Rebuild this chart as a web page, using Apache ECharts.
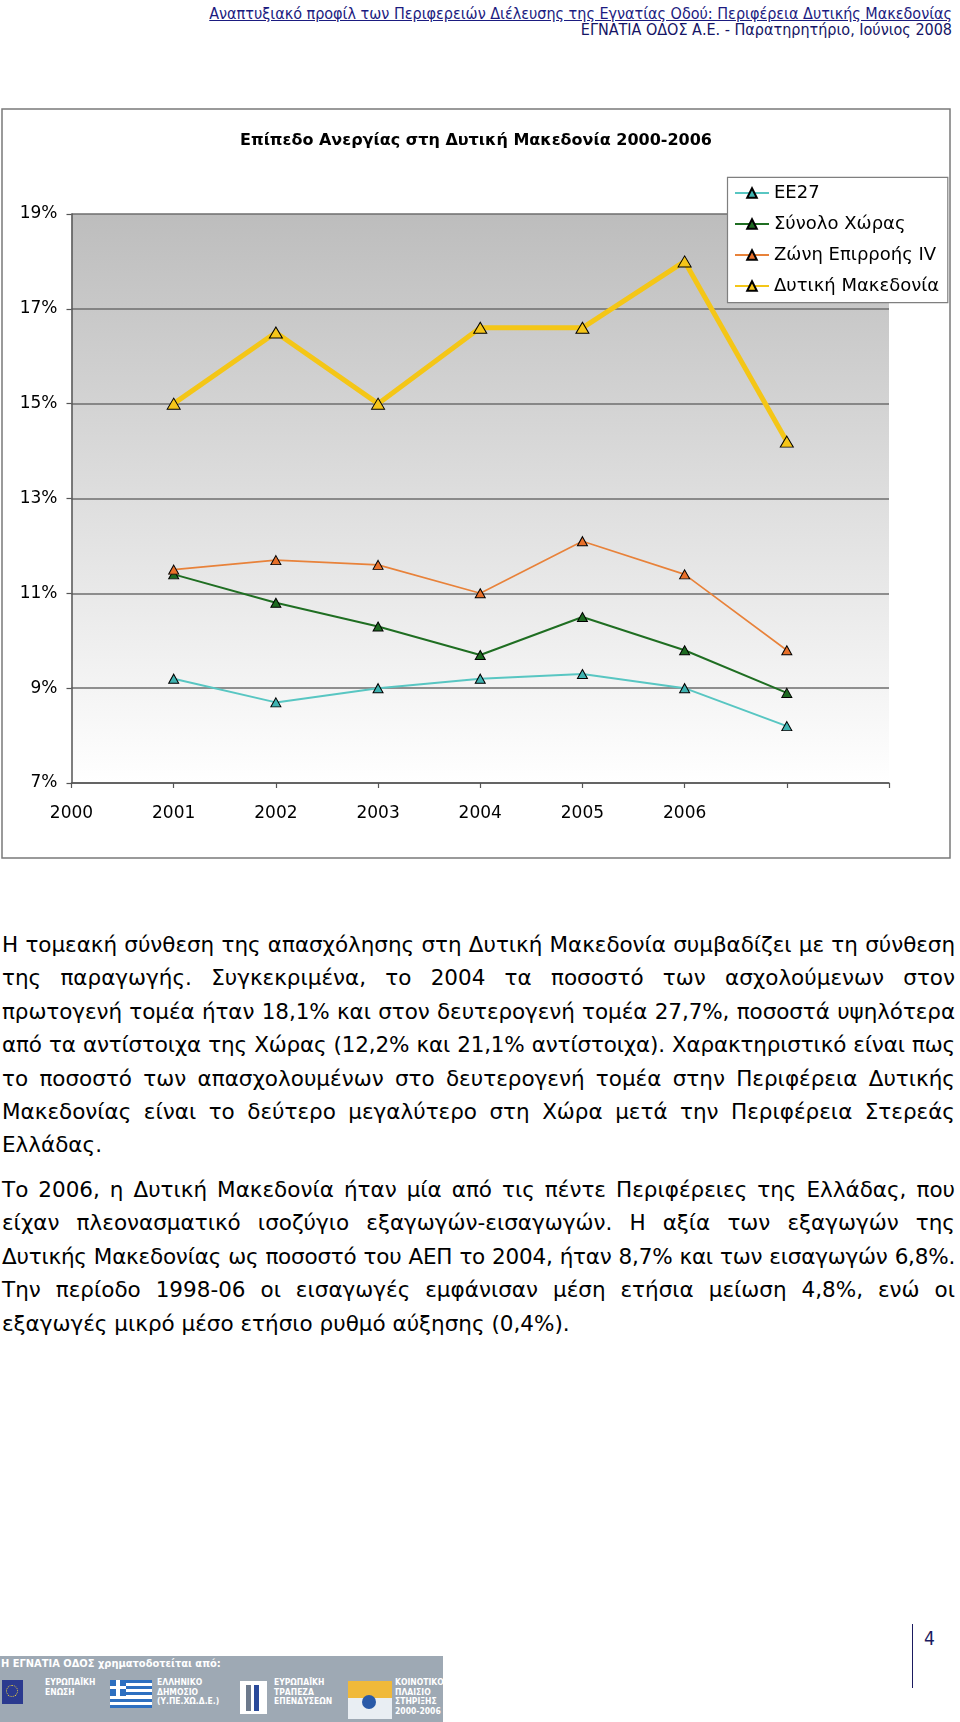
<!DOCTYPE html>
<html>
<head>
<meta charset="utf-8">
<script src="https://cdn.jsdelivr.net/npm/echarts@6/dist/echarts.min.js"></script>
<style>
html,body{margin:0;padding:0;background:#fff;}
body{width:960px;height:1722px;position:relative;overflow:hidden;font-family:"DejaVu Sans",sans-serif;}
.hdr{position:absolute;right:8px;white-space:nowrap;font-family:"DejaVu Sans Condensed","DejaVu Sans",sans-serif;font-stretch:condensed;color:#1b1b80;font-size:16px;line-height:17px;}
#h1{top:5px;text-decoration:underline;}
#h2{top:21px;color:#141465;}
#chart{position:absolute;left:0;top:100px;width:952px;height:770px;}
.para{position:absolute;left:2px;width:953px;font-size:21.5px;color:#000;font-family:"DejaVu Sans",sans-serif;}
.line{height:33.4px;line-height:33.4px;white-space:nowrap;text-align:justify;text-align-last:justify;}
.line.last{text-align:left;text-align-last:left;}
#p1{top:928px;}
#p2{top:1173px;}
#pnum{position:absolute;left:924px;top:1627px;font-size:19px;color:#1b1b60;font-family:"DejaVu Sans Condensed","DejaVu Sans",sans-serif;}
#pline{position:absolute;left:912px;top:1624px;width:1px;height:64px;background:#1b1b60;}
#banner{position:absolute;left:0;top:1656px;width:443px;height:66px;background:#9ea9b4;color:#fff;font-family:"DejaVu Sans Condensed","DejaVu Sans",sans-serif;font-stretch:condensed;}
#banner .t{position:absolute;left:1px;top:1px;font-size:11px;font-weight:bold;white-space:nowrap;}
#banner .s{position:absolute;font-size:8.5px;line-height:9.5px;font-weight:bold;white-space:nowrap;}
.eu{position:absolute;left:2px;top:24px;width:21px;height:24px;background:#2b3a8f;}
.eu i{position:absolute;left:4px;top:5px;width:10px;height:10px;border:1.5px dotted #f3d63a;border-radius:50%;}
.gr{position:absolute;left:110px;top:24px;width:42px;height:28px;background:repeating-linear-gradient(#2d6fc0 0 3.1px,#fff 3.1px 6.2px);}
.gr i{position:absolute;left:0;top:0;width:16px;height:15.5px;background:linear-gradient(#2d6fc0 0 6px,#fff 6px 9.5px,#2d6fc0 9.5px),#2d6fc0;}
.gr i:after{content:"";position:absolute;left:6px;top:0;width:3.5px;height:15.5px;background:#fff;}
.eib{position:absolute;left:240px;top:25px;width:27px;height:33px;background:#fff;}
.eib i{position:absolute;top:4px;width:5px;height:26px;background:#6d7a8c;}
.csf{position:absolute;left:348px;top:25px;width:44px;height:38px;background:linear-gradient(#f0b93a 0 45%,#e9eef3 45%);}
.csf i{position:absolute;left:14px;top:14px;width:14px;height:14px;border-radius:50%;background:#2a5aa8;}
</style>
</head>
<body>
<div id="h1" class="hdr">Αναπτυξιακό προφίλ των Περιφερειών Διέλευσης της Εγνατίας Οδού: Περιφέρεια Δυτικής Μακεδονίας</div>
<div id="h2" class="hdr">ΕΓΝΑΤΙΑ ΟΔΟΣ Α.Ε. - Παρατηρητήριο, Ιούνιος 2008</div>

<div id="chart"></div>

<div id="p1" class="para">
<div class="line"><span>Η τομεακή σύνθεση της απασχόλησης στη Δυτική Μακεδονία συμβαδίζει με τη σύνθεση</span></div>
<div class="line"><span>της παραγωγής. Συγκεκριμένα, το 2004 τα ποσοστό των ασχολούμενων στον</span></div>
<div class="line"><span>πρωτογενή τομέα ήταν 18,1% και στον δευτερογενή τομέα 27,7%, ποσοστά υψηλότερα</span></div>
<div class="line"><span>από τα αντίστοιχα της Χώρας (12,2% και 21,1% αντίστοιχα). Χαρακτηριστικό είναι πως</span></div>
<div class="line"><span>το ποσοστό των απασχολουμένων στο δευτερογενή τομέα στην Περιφέρεια Δυτικής</span></div>
<div class="line"><span>Μακεδονίας είναι το δεύτερο μεγαλύτερο στη Χώρα μετά την Περιφέρεια Στερεάς</span></div>
<div class="line last"><span>Ελλάδας.</span></div>
</div>
<div id="p2" class="para">
<div class="line"><span>Το 2006, η Δυτική Μακεδονία ήταν μία από τις πέντε Περιφέρειες της Ελλάδας, που</span></div>
<div class="line"><span>είχαν πλεονασματικό ισοζύγιο εξαγωγών-εισαγωγών. Η αξία των εξαγωγών της</span></div>
<div class="line"><span>Δυτικής Μακεδονίας ως ποσοστό του ΑΕΠ το 2004, ήταν 8,7% και των εισαγωγών 6,8%.</span></div>
<div class="line"><span>Την περίοδο 1998-06 οι εισαγωγές εμφάνισαν μέση ετήσια μείωση 4,8%, ενώ οι</span></div>
<div class="line last"><span>εξαγωγές μικρό μέσο ετήσιο ρυθμό αύξησης (0,4%).</span></div>
</div>

<div id="pline"></div>
<div id="pnum">4</div>

<div id="banner">
  <div class="t">Η ΕΓΝΑΤΙΑ ΟΔΟΣ χρηματοδοτείται από:</div>
  <div class="eu"><i></i></div>
  <div class="s" style="left:45px;top:22px;">ΕΥΡΩΠΑΪΚΗ<br>ΕΝΩΣΗ</div>
  <div class="gr"><i></i></div>
  <div class="s" style="left:157px;top:22px;">ΕΛΛΗΝΙΚΟ<br>ΔΗΜΟΣΙΟ<br>(Υ.ΠΕ.ΧΩ.Δ.Ε.)</div>
  <div class="eib"><i style="left:6px"></i><i style="left:14px;background:#2a4a9a"></i></div>
  <div class="s" style="left:274px;top:22px;">ΕΥΡΩΠΑΪΚΗ<br>ΤΡΑΠΕΖΑ<br>ΕΠΕΝΔΥΣΕΩΝ</div>
  <div class="csf"><i></i></div>
  <div class="s" style="left:395px;top:22px;">ΚΟΙΝΟΤΙΚΟ<br>ΠΛΑΙΣΙΟ<br>ΣΤΗΡΙΞΗΣ<br>2000-2006</div>
</div>

<script>
// fit justified lines that would overflow the text column
(function fitLines() {
  const maxW = 953;
  document.querySelectorAll('.line').forEach(function (el) {
    const span = el.querySelector('span');
    const prev = el.style.textAlignLast;
    el.style.textAlignLast = 'left';
    const w = span.getBoundingClientRect().width;
    el.style.textAlignLast = prev;
    if (w > maxW - 4) {
      const n = span.textContent.length;
      span.style.letterSpacing = (-(w - maxW + 6) / n).toFixed(3) + 'px';
    }
  });
})();

// ---- data ----
const chartTitle = 'Επίπεδο Ανεργίας στη Δυτική Μακεδονία 2000-2006';
const xTickLabels = ['2000', '2001', '2002', '2003', '2004', '2005', '2006', '', ''];
const seriesNames = ['ΕΕ27', 'Σύνολο Χώρας', 'Ζώνη Επιρροής IV', 'Δυτική Μακεδονία'];
const ee27 = [9.2, 8.7, 9.0, 9.2, 9.3, 9.0, 8.2];
const synoloXoras = [11.4, 10.8, 10.3, 9.7, 10.5, 9.8, 8.9];
const zoniEpirrois = [11.5, 11.7, 11.6, 11.0, 12.1, 11.4, 9.8];
const dytikiMakedonia = [15.0, 16.5, 15.0, 16.6, 16.6, 18.0, 14.2];
const yMin = 7, yMax = 19, yStep = 2;

// points sit on category slots 1..7 (as in the original Excel chart)
function placed(vals) { return [null].concat(vals).concat([null]); }

const styles = [
  { line: '#58c6c2', fill: '#3fb3b1', width: 2, size: [10, 9] },
  { line: '#1f6e22', fill: '#1d6a21', width: 2, size: [10, 9] },
  { line: '#e8823a', fill: '#e8702a', width: 1.6, size: [10, 9] },
  { line: '#f4c617', fill: '#f5c51a', width: 5, size: [13, 11] }
];
const values = [ee27, synoloXoras, zoniEpirrois, dytikiMakedonia];

const chart = echarts.init(document.getElementById('chart'), null, { renderer: 'canvas' });
const font = 'DejaVu Sans';

chart.setOption({
  animation: false,
  title: {
    text: chartTitle, left: 'center', top: 33, padding: 0,
    textStyle: { fontFamily: font, fontWeight: 'bold', fontSize: 16, color: '#000' }
  },
  graphic: [
    { type: 'rect', z: -10, shape: { x: 2, y: 9, width: 948, height: 749 },
      style: { fill: '#fff', stroke: '#7a7a7a', lineWidth: 1.5 } },
    { type: 'rect', z: 3, shape: { x: 727.5, y: 77.3, width: 220.3, height: 125.4 },
      style: { fill: '#fff', stroke: '#7f7f7f', lineWidth: 1.2 } }
  ],
  legend: {
    orient: 'vertical', left: 734, top: 84, padding: 0, z: 5,
    itemWidth: 34, itemHeight: 12, itemGap: 13,
    textStyle: { fontFamily: font, fontSize: 18, color: '#000' },
    data: seriesNames
  },
  grid: {
    left: 71.5, right: 63, top: 114, bottom: 87, show: true, borderWidth: 0,
    backgroundColor: new echarts.graphic.LinearGradient(0, 0, 0, 1, [
      { offset: 0, color: '#bdbdbd' }, { offset: 1, color: '#ffffff' }
    ])
  },
  xAxis: {
    type: 'category', data: xTickLabels, boundaryGap: false,
    axisLine: { lineStyle: { color: '#555', width: 1.5 } },
    axisTick: { show: true, length: 5, interval: 0, lineStyle: { color: '#555', width: 1.2 } },
    axisLabel: { interval: 0, margin: 22, fontFamily: font, fontSize: 17, color: '#000' },
    splitLine: { show: false }
  },
  yAxis: {
    type: 'value', min: yMin, max: yMax, interval: yStep,
    axisLine: { show: true, lineStyle: { color: '#555', width: 1.5 } },
    axisTick: { show: true, length: 5, lineStyle: { color: '#555', width: 1.2 } },
    axisLabel: { formatter: '{value}%', margin: 14, fontFamily: font, fontSize: 17, color: '#000' },
    splitLine: { show: true, lineStyle: { color: '#6e6e6e', width: 1.5 } }
  },
  series: seriesNames.map((name, i) => ({
    name: name, type: 'line', data: placed(values[i]),
    symbol: 'triangle', symbolSize: styles[i].size, showAllSymbol: true,
    connectNulls: false, z: 2 + i,
    lineStyle: { color: styles[i].line, width: styles[i].width },
    itemStyle: { color: styles[i].fill, borderColor: '#000', borderWidth: 1 },
    emphasis: { disabled: true }
  }))
});
</script>
</body>
</html>
